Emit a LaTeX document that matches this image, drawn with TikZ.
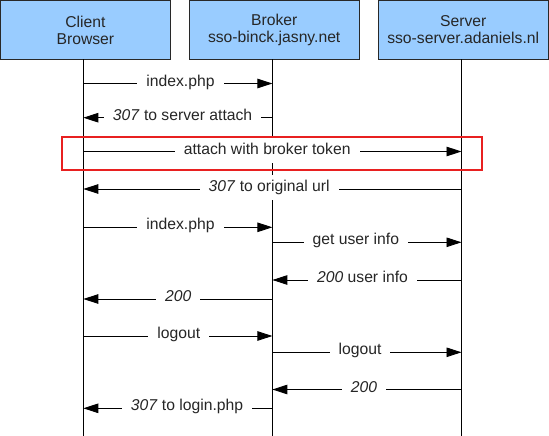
\documentclass[tikz,border=0pt]{standalone}
\usepackage{fontspec}
\setmainfont{Liberation Sans}
\usetikzlibrary{arrows.meta}
\definecolor{boxblue}{RGB}{153,204,255}
\definecolor{boxline}{RGB}{40,40,40}
\definecolor{hlred}{RGB}{232,32,32}
\begin{document}
\begin{tikzpicture}[x=1pt,y=-1pt,
  every node/.style={font=\fontsize{15.7}{17}\selectfont},
  actor/.style={draw=boxline,line width=0.9pt,fill=boxblue,minimum width=170.5pt,minimum height=59pt,inner sep=0pt,align=center,text=black!85},
  life/.style={line width=0.9pt,black},
  msg/.style={line width=0.9pt,black,-{Triangle[length=15pt,width=9.5pt]}},
  lbl/.style={fill=white,anchor=mid,inner xsep=9pt,inner ysep=5pt,text height=11.5pt,text depth=3.5pt,text=black!85},
  hilite/.style={draw=hlred,line width=1.8pt}]
\useasboundingbox (0,0) rectangle (549,436);
\fill[white] (0,0) rectangle (549,436);
% actors
\node[actor] (client) at (85.4,30) {Client\\Browser};
\node[actor] (broker) at (274.2,30) {Broker\\sso-binck.jasny.net};
\node[actor] (server) at (463.2,30) {Server\\sso-server.adaniels.nl};
% lifelines
\coordinate (ct) at (83.3,59.5);  \coordinate (cb) at (83.3,437);
\coordinate (bt) at (272.4,59.5); \coordinate (bb) at (272.4,437);
\coordinate (st) at (461.5,59.5); \coordinate (sb) at (461.5,437);
\draw[life] (ct) -- (cb);
\draw[life] (bt) -- (bb);
\draw[life] (st) -- (sb);
% highlight box
\coordinate (h1) at (62,136.7); \coordinate (h2) at (481.7,170);
\draw[hilite] (h1) rectangle (h2);
% message end points
\foreach \n/\y in {1/83.5,2/117.7,3/151.5,4/189,5/227.3,6/242.3,7/280,8/299,9/336,10/352.3,11/389.5,12/408.3}{
  \coordinate (c\n) at (83.3,\y);
  \coordinate (b\n) at (272.4,\y);
  \coordinate (s\n) at (461.5,\y);
}
% messages
\draw[msg] (c1) -- (b1);
\draw[msg] (b2) -- (c2);
\draw[msg] (c3) -- (s3);
\draw[msg] (s4) -- (c4);
\draw[msg] (c5) -- (b5);
\draw[msg] (b6) -- (s6);
\draw[msg] (s7) -- (b7);
\draw[msg] (b8) -- (c8);
\draw[msg] (c9) -- (b9);
\draw[msg] (b10) -- (s10);
\draw[msg] (s11) -- (b11);
\draw[msg] (b12) -- (c12);
% labels
\node[lbl] (l1) at (180.5,83.5) {index.php};
\node[lbl] (l2) at (182.6,117.7) {\textit{307} to server attach};
\node[lbl] (l3) at (267.2,151.5) {attach with broker token};
\node[lbl] (l4) at (269.2,189) {\textit{307} to original url};
\node[lbl] (l5) at (180.5,227.3) {index.php};
\node[lbl] (l6) at (355.8,242.3) {get user info};
\node[lbl] (l7) at (362.5,280) {\textit{200} user info};
\node[lbl] (l8) at (178.2,299) {\textit{200}};
\node[lbl] (l9) at (178.8,336) {logout};
\node[lbl] (l10) at (360,352.3) {logout};
\node[lbl] (l11) at (364,389.5) {\textit{200}};
\node[lbl] (l12) at (187,408.3) {\textit{307} to login.php};
\end{tikzpicture}
\end{document}
